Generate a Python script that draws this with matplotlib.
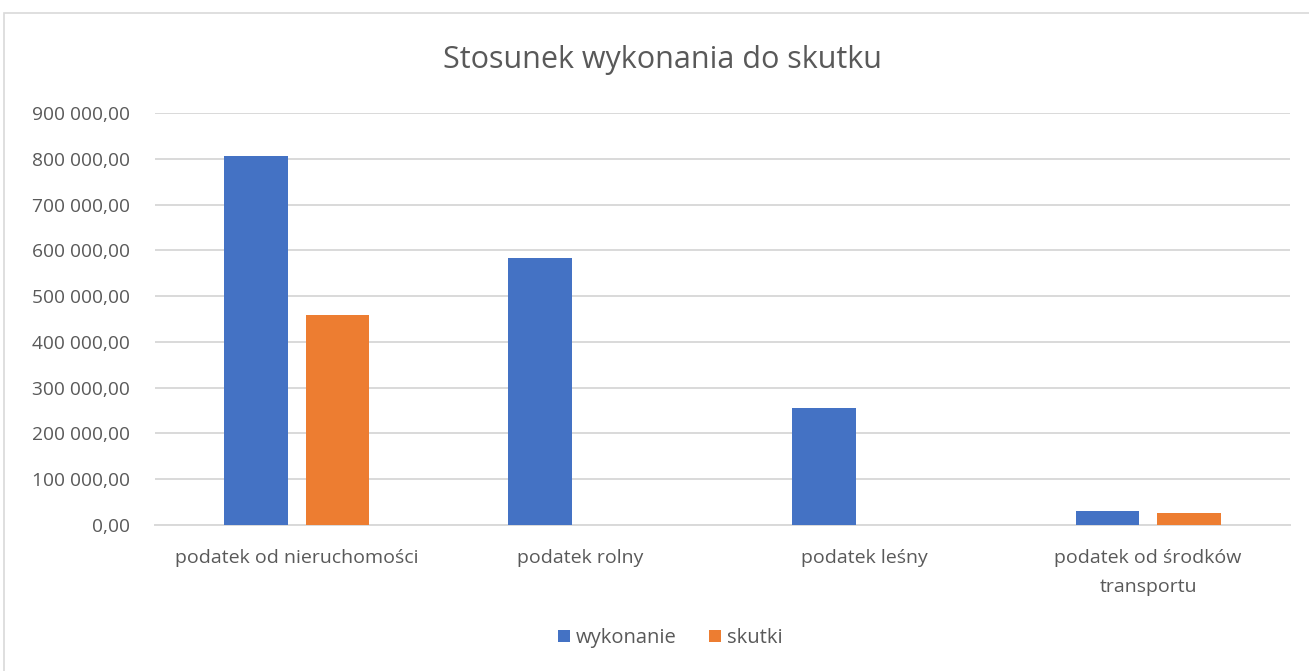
import matplotlib
matplotlib.use("Agg")
import matplotlib.pyplot as plt
from matplotlib.patches import Rectangle
from matplotlib.ticker import FuncFormatter
import numpy as np

categories = ["podatek od nieruchomości", "podatek rolny", "podatek leśny", "podatek od środków\ntransportu"]
wykonanie = [806000, 584000, 256000, 31000]
skutki = [459000, 0, 0, 26000]
yticks = [0, 100000, 200000, 300000, 400000, 500000, 600000, 700000, 800000, 900000]

plt.rcParams['font.family'] = ['Open Sans', 'DejaVu Sans']
fig = plt.figure(figsize=(13.09, 6.71), dpi=100)
fig.patch.set_facecolor('white')
fig.patches.append(Rectangle((4/1309, -0.05), 1.1, 1 - 13/671 + 0.05, transform=fig.transFigure,
                             fill=False, edgecolor='#d9d9d9', linewidth=1.2))

ax = fig.add_axes([155/1309, 1 - 525/671, (1290 - 155)/1309, (525 - 113)/671])
x = np.arange(len(categories))
w = 0.225
off = 0.143
ax.bar(x - off, wykonanie, w, color='#4472c4', label='wykonanie', zorder=3)
ax.bar(x + off, skutki, w, color='#ed7d31', label='skutki', zorder=3)
ax.set_xlim(-0.5, len(categories) - 0.5)
ax.set_ylim(0, 900000)
ax.set_yticks(yticks)

def fmt(v, pos):
    s = f"{int(round(v)):,}".replace(",", " ")
    return s + ",00"
ax.yaxis.set_major_formatter(FuncFormatter(fmt))
ax.set_xticks(x)
ax.set_xticklabels(categories, fontsize=14, color='#595959', linespacing=1.8)
ax.tick_params(axis='y', labelsize=13.8, labelcolor='#595959', length=0, pad=18)
ax.tick_params(axis='x', length=0, pad=17)
ax.grid(axis='y', color='#d9d9d9', linewidth=1.4, zorder=0)
for s in ['top', 'right', 'left']:
    ax.spines[s].set_visible(False)
ax.spines['bottom'].set_color('#d9d9d9')
ax.spines['bottom'].set_linewidth(1.4)

fig.text(662/1309, 1 - 60/671, "Stosunek wykonania do skutku", ha='center', va='center',
         fontsize=22, color='#595959')
fig.legend(loc='center', bbox_to_anchor=(670/1309, 1 - 638/671), ncol=2, frameon=False,
           fontsize=14.5, labelcolor='#595959', handlelength=0.6, handleheight=0.6,
           handletextpad=0.3, columnspacing=1.6)

fig.savefig("out.png", dpi=100, facecolor='white')
